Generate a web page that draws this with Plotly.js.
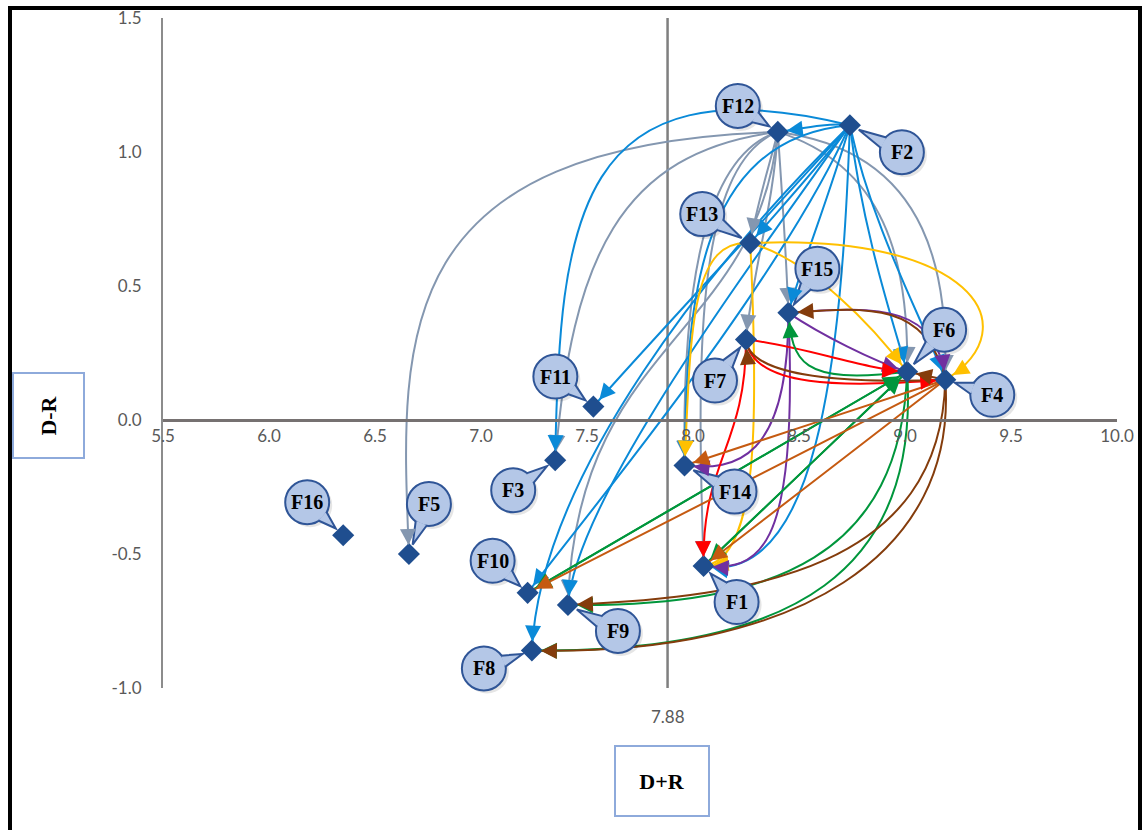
<!DOCTYPE html>
<html><head><meta charset="utf-8">
<script src="https://cdn.plot.ly/plotly-3.0.1.min.js"></script>
<style>
html,body{margin:0;padding:0;background:#fff;}
#wrap{position:relative;width:1142px;height:830px;overflow:hidden;}
#chart{width:1142px;height:830px;}
#frame{position:absolute;left:8px;top:6px;width:1134px;height:900px;border:4px solid #000;box-sizing:border-box;pointer-events:none;}
</style></head><body>
<div id="wrap"><div id="chart"></div><div id="frame"></div></div>
<script>
// ---- data ----
const factors = ['F1','F2','F3','F4','F5','F6','F7','F8','F9','F10','F11','F12','F13','F14','F15','F16'];
const dPlusR  = [8.05, 8.74, 7.35, 9.19, 6.66, 9.01, 8.25, 7.24, 7.41, 7.22, 7.53, 8.40, 8.27, 7.96, 8.45, 6.35];
const dMinusR = [-0.545, 1.10, -0.15, 0.15, -0.50, 0.18, 0.30, -0.86, -0.69, -0.645, 0.05, 1.075, 0.66, -0.17, 0.40, -0.43];
const xTicks = [5.5, 6.0, 6.5, 7.0, 7.5, 8.0, 8.5, 9.0, 9.5, 10.0];
const yTicks = [-1.0, -0.5, 0.0, 0.5, 1.0, 1.5];
const threshold = 7.88;

// influence relations (from -> to) and their colour group
const edgeFrom  = ['F12','F12','F12','F12','F12','F12','F12','F12','F12','F12',
                   'F2','F2','F2','F2','F2','F2','F2','F2','F2','F2','F2','F2',
                   'F13','F13','F13','F13',
                   'F15','F15','F15','F15',
                   'F7','F7','F7',
                   'F6','F6','F6','F6','F6','F10','F1',
                   'F4','F4','F4',
                   'F4','F4','F4','F4','F4'];
const edgeTo    = ['F5','F3','F9','F13','F15','F7','F6','F4','F14','F1',
                   'F12','F3','F11','F13','F15','F6','F4','F14','F1','F10','F9','F8',
                   'F6','F4','F14','F1',
                   'F6','F4','F14','F1',
                   'F6','F4','F1',
                   'F15','F10','F1','F9','F8','F6','F6',
                   'F14','F10','F1',
                   'F15','F7','F6','F9','F8'];
const edgeGroup = ['gray','gray','gray','gray','gray','gray','gray','gray','gray','gray',
                   'blue','blue','blue','blue','blue','blue','blue','blue','blue','blue','blue','blue',
                   'gold','gold','gold','gold',
                   'purple','purple','purple','purple',
                   'red','red','red',
                   'green','green','green','green','green','green','green',
                   'orange','orange','orange',
                   'brown','brown','brown','brown','brown'];

// ---- styling / geometry ----
const groupColor = {gray:'#8497b0', blue:'#0a8ad8', gold:'#ffc000', purple:'#7030a0',
                    red:'#ff0000', green:'#00963c', orange:'#c55a11', brown:'#843c0c'};
// curve control points (null = straight connector)
const routes = [
  [[6.55,1.03],[6.62,0.3]], [[7.65,1.0],[7.43,0.6]], [[8.3,0.3],[7.45,0.3]], [[8.36,0.95],[8.3,0.8]],
  [[8.42,0.85],[8.44,0.6]], [[8.38,0.8],[8.28,0.55]], [[8.9,0.95],[9.02,0.6]], [[9.15,1.0],[9.2,0.5]],
  [[8.02,0.98],[7.95,0.4]], [[8.0,0.95],[8.02,0.2]],
  [[8.62,1.11],[8.5,1.085]], [[7.45,1.35],[7.37,0.75]], [[8.4,0.8],[7.75,0.25]], [[8.6,0.95],[8.4,0.78]],
  [[8.65,0.85],[8.5,0.55]], [[8.8,0.7],[8.95,0.35]], [[8.85,0.7],[9.1,0.35]], [[8.0,1.05],[7.97,0.4]],
  [[8.7,0.2],[8.58,-0.62]], [[8.4,0.5],[7.5,-0.35]], [[8.2,0.5],[7.45,-0.3]], [[8.1,0.6],[7.28,-0.2]],
  [[8.55,0.6],[8.85,0.35]], [[9.3,0.70],[9.6,0.35]], [[7.98,0.68],[7.99,0.3]], [[8.31,0.0],[8.31,-0.52]],
  [[8.6,0.32],[8.85,0.22]], [[8.9,0.43],[9.15,0.42]], [[8.45,-0.15],[8.2,-0.19]], [[8.5,-0.52],[8.3,-0.56]],
  [[8.5,0.28],[8.8,0.19]], [[8.28,0.12],[8.7,0.12]], [[8.25,-0.1],[8.04,-0.15]],
  [[8.5,0.13],[8.47,0.22]], null, null, [[8.98,-0.5],[8.4,-0.7]], [[9.07,-0.55],[8.5,-0.87]], null, null,
  null, null, null,
  [[9.1,0.45],[8.8,0.42]], [[8.5,0.13],[8.26,0.2]], null, [[9.17,-0.55],[8.3,-0.66]], [[9.25,-0.5],[8.5,-0.88]]
];
// callout bubble offsets in pixels (right, down) from each point
const labelOffsets = {F1:[33,36],F2:[52,27],F3:[-42,30],F4:[47,15],F5:[20,-50],F6:[37,-42],F7:[-31,41],
  F8:[-48,18],F9:[50,26],F10:[-35,-32],F11:[-38,-30],F12:[-40,-26],F13:[-48,-29],F14:[50,26],F15:[29,-44],F16:[-36,-33]};

const W = 1142, H = 830;
const M = {l:163, r:25, t:18, b:142, pad:0};
const xr = [5.5, 10.0], yr = [-1.0, 1.5];
const sx = (W - M.l - M.r) / (xr[1] - xr[0]);
const sy = (H - M.t - M.b) / (yr[1] - yr[0]);
const idx = n => factors.indexOf(n);
const lerp = (a, b, t) => [a[0] + (b[0] - a[0]) * t, a[1] + (b[1] - a[1]) * t];
const toPaperX = v => (v - xr[0]) / (xr[1] - xr[0]);
const toPaperY = v => (v - yr[0]) / (yr[1] - yr[0]);

const shapes = [];
const annotations = [];

shapes.push({type:'line', xref:'x', yref:'y', x0:threshold, x1:threshold, y0:yr[0], y1:yr[1],
  line:{color:'#7f7f7f', width:2.5}, layer:'below'});

edgeFrom.forEach((f, i) => {
  const a = idx(f), b = idx(edgeTo[i]);
  const color = groupColor[edgeGroup[i]];
  const P0 = [dPlusR[a], dMinusR[a]], P3 = [dPlusR[b], dMinusR[b]];
  let P1, P2;
  if (routes[i]) { P1 = routes[i][0]; P2 = routes[i][1]; }
  else { P1 = lerp(P0, P3, 1/3); P2 = lerp(P0, P3, 2/3); }
  shapes.push({type:'path', xref:'x', yref:'y',
    path:`M${P0[0]},${P0[1]} C${P1[0]},${P1[1]} ${P2[0]},${P2[1]} ${P3[0]},${P3[1]}`,
    line:{color:color, width:2}, fillcolor:'rgba(0,0,0,0)', layer:'below'});
  let dx = (P3[0] - P2[0]) * sx, dy = -(P3[1] - P2[1]) * sy;
  let len = Math.hypot(dx, dy);
  if (len < 1) { dx = (P3[0] - P1[0]) * sx; dy = -(P3[1] - P1[1]) * sy; len = Math.hypot(dx, dy); }
  const ux = dx / len, uy = dy / len;
  annotations.push({x:P3[0], y:P3[1], xref:'x', yref:'y', text:'', showarrow:true,
    ax:-ux*18, ay:-uy*18, arrowhead:2, arrowsize:2.0, arrowwidth:1.6, arrowcolor:color, standoff:9});
});

// callout bubbles
factors.forEach((n, i) => {
  const x = dPlusR[i], y = dMinusR[i];
  const xa = toPaperX(x), ya = toPaperY(y);
  const [ox, oy] = labelOffsets[n];
  const R = 22;
  const d = Math.hypot(ox, oy), ux = ox / d, uy = oy / d;
  const tip = [ux * 10, uy * 10];
  const bc = [ox - ux * (R - 1.5), oy - uy * (R - 1.5)];
  const pxv = -uy, pyv = ux;
  const b1 = [bc[0] + pxv * 6, bc[1] + pyv * 6], b2 = [bc[0] - pxv * 6, bc[1] - pyv * 6];
  const common = {xref:'paper', yref:'paper', xsizemode:'pixel', ysizemode:'pixel', xanchor:xa, yanchor:ya, layer:'above'};
  shapes.push(Object.assign({type:'circle', x0:ox - R + 3, x1:ox + R + 3, y0:-oy - R - 3, y1:-oy + R - 3,
    fillcolor:'rgba(0,0,0,0.10)', line:{width:0}}, common));
  shapes.push(Object.assign({type:'circle', x0:ox - R, x1:ox + R, y0:-oy - R, y1:-oy + R,
    fillcolor:'#b4c7e7', line:{color:'#2f5597', width:2}}, common));
  shapes.push(Object.assign({type:'path',
    path:`M${b1[0]},${-b1[1]} L${tip[0]},${-tip[1]} L${b2[0]},${-b2[1]}`,
    fillcolor:'#b4c7e7', line:{color:'#2f5597', width:2}}, common));
  annotations.push({x:x, y:y, xref:'x', yref:'y', text:'<b>' + n + '</b>', showarrow:false,
    xshift:ox, yshift:-oy, font:{family:'Liberation Serif, Times New Roman, serif', size:20, color:'#000'}});
});

const tickFont = {family:'Lato, Carlito, Liberation Sans, sans-serif', size:17, color:'#595959'};
annotations.push({x:threshold, xref:'x', y:-28 / (H - M.t - M.b), yref:'paper',
  text:'7.88', showarrow:false, font:tickFont, yanchor:'middle'});
annotations.push({x:(662 - M.l) / (W - M.l - M.r), xref:'paper', y:-(781 - (H - M.b)) / (H - M.t - M.b), yref:'paper',
  text:'<b>D+R</b>', showarrow:false, font:{family:'Liberation Serif, Times New Roman, serif', size:22, color:'#000'},
  bordercolor:'#8eaadb', borderwidth:2, bgcolor:'#ffffff', width:90, height:66, xanchor:'center', yanchor:'middle'});
annotations.push({x:(48 - M.l) / (W - M.l - M.r), xref:'paper', y:((H - M.b) - 416) / (H - M.t - M.b), yref:'paper',
  text:'<b>D-R</b>', showarrow:false, textangle:-90, font:{family:'Liberation Serif, Times New Roman, serif', size:22, color:'#000'},
  bordercolor:'#8eaadb', borderwidth:2, bgcolor:'#ffffff', width:81, height:67, xanchor:'center', yanchor:'middle'});

const traces = [{
  type:'scatter', mode:'markers', x:dPlusR, y:dMinusR, text:factors, hoverinfo:'text',
  marker:{symbol:'diamond', size:17, color:'#1f4e8f', line:{width:0}}, cliponaxis:false
}];

const layout = {
  width:W, height:H, margin:M, paper_bgcolor:'#ffffff', plot_bgcolor:'rgba(0,0,0,0)', showlegend:false,
  xaxis:{range:xr, tickvals:xTicks, ticktext:xTicks.map(v => v.toFixed(1)), showgrid:false, zeroline:false,
    showline:true, linecolor:'#767171', linewidth:3, anchor:'free', position:toPaperY(0),
    ticks:'', tickfont:tickFont, fixedrange:true},
  yaxis:{range:yr, tickvals:yTicks, ticktext:yTicks.map(v => v.toFixed(1)), showgrid:false, zeroline:false,
    showline:true, linecolor:'#8c8c8c', linewidth:2, ticks:'', ticklabelstandoff:16, tickfont:tickFont, fixedrange:true},
  shapes:shapes, annotations:annotations
};
Plotly.newPlot('chart', traces, layout, {displayModeBar:false, staticPlot:true});
</script>
</body></html>
